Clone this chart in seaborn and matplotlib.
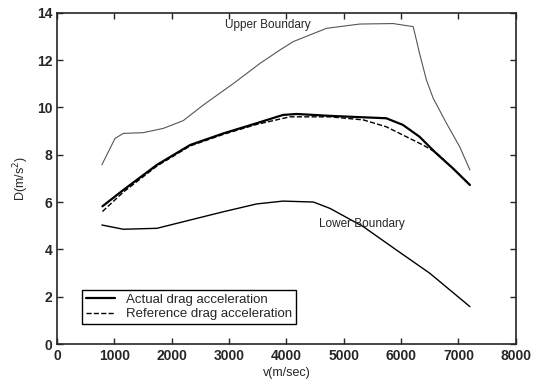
import numpy as np
import pandas as pd
import matplotlib
matplotlib.use('Agg')
import matplotlib.pyplot as plt
import seaborn as sns

# Data
v_upper = [780, 1010, 1155, 1500, 1850, 2200, 2550, 3070, 3540, 3890, 4120, 4700, 5280, 5860, 6210, 6320, 6440, 6560, 6790, 7020, 7200]
d_upper = [7.57, 8.69, 8.9, 8.93, 9.11, 9.44, 10.1, 11.0, 11.86, 12.43, 12.78, 13.34, 13.52, 13.54, 13.41, 12.29, 11.16, 10.38, 9.33, 8.34, 7.35]

v_actual = [790, 1155, 1740, 2320, 2900, 3480, 3940, 4180, 4760, 5340, 5740, 6030, 6320, 6610, 6900, 7200]
d_actual = [5.82, 6.51, 7.57, 8.41, 8.9, 9.33, 9.68, 9.72, 9.64, 9.58, 9.54, 9.26, 8.76, 8.06, 7.43, 6.72]

v_ref = [790, 1155, 1740, 2320, 2900, 3480, 4060, 4760, 5340, 5740, 6090, 6380, 6610, 6900, 7200]
d_ref = [5.6, 6.42, 7.52, 8.37, 8.86, 9.28, 9.6, 9.6, 9.47, 9.18, 8.76, 8.41, 8.09, 7.43, 6.72]

v_lower = [780, 1155, 1740, 2320, 2900, 3480, 3940, 4470, 4760, 5340, 5920, 6500, 7200]
d_lower = [5.03, 4.85, 4.89, 5.24, 5.59, 5.92, 6.04, 6.0, 5.73, 4.96, 3.97, 2.99, 1.58]

upper = pd.DataFrame({'v': v_upper, 'D': d_upper})
actual = pd.DataFrame({'v': v_actual, 'D': d_actual})
ref = pd.DataFrame({'v': v_ref, 'D': d_ref})
lower = pd.DataFrame({'v': v_lower, 'D': d_lower})

sns.set_style("ticks")
plt.rcParams['font.family'] = ['Liberation Sans', 'DejaVu Sans']

fig = plt.figure(figsize=(5.39, 3.84), dpi=100)
ax = fig.add_axes([0.106, 0.104, 0.851, 0.863])

sns.lineplot(data=upper, x='v', y='D', color='#555555', lw=0.8, ax=ax, sort=False)
sns.lineplot(data=lower, x='v', y='D', color='black', lw=1.0, ax=ax, sort=False)
sns.lineplot(data=ref, x='v', y='D', color='black', lw=1.0, ls='--', dashes=False, ax=ax, sort=False,
             label='Reference drag acceleration')
sns.lineplot(data=actual, x='v', y='D', color='black', lw=1.6, ax=ax, sort=False,
             label='Actual drag acceleration')

ax.text(3680, 13.5, 'Upper Boundary', ha='center', va='center', fontsize=8.5)
ax.text(5310, 5.07, 'Lower Boundary', ha='center', va='center', fontsize=8.5)

ax.set_xlim(0, 8000)
ax.set_ylim(0, 14)
ax.set_xticks(np.arange(0, 8001, 1000))
ax.set_yticks(np.arange(0, 15, 2))
ax.tick_params(direction='in', top=True, right=True, length=4, width=1, labelsize=10)
for lab in ax.get_xticklabels() + ax.get_yticklabels():
    lab.set_fontweight('bold')
ax.set_xlabel('v(m/sec)', fontsize=9, labelpad=3)
ax.set_ylabel('D(m/s$^2$)', fontsize=9, labelpad=4)
for s in ax.spines.values():
    s.set_linewidth(1.2)

# legend order: actual first
h, l = ax.get_legend_handles_labels()
leg = ax.legend(h[::-1], l[::-1], loc='lower left', bbox_to_anchor=(0.04, 0.04), fontsize=9.5,
                frameon=True, fancybox=False, edgecolor='black', framealpha=1,
                handlelength=2.2, borderpad=0.3, labelspacing=0.15)
leg.get_frame().set_linewidth(1.0)

fig.savefig('out.png', dpi=100)
